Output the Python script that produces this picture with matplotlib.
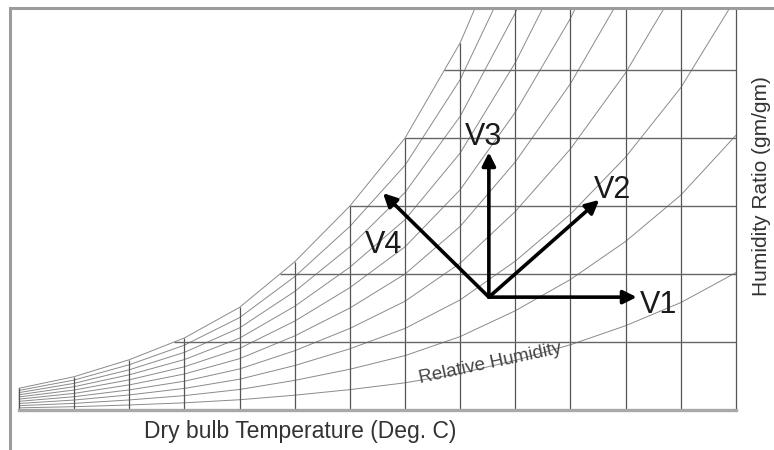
import matplotlib
matplotlib.use("Agg")
import matplotlib.pyplot as plt
import numpy as np

# dry bulb grid lines (deg C) and saturation humidity ratio
dry_bulb = [0, 5, 10, 15, 20, 25, 30, 35, 40, 45, 50, 55, 60, 65]
sat_ratio = [0.32, 0.49, 0.74, 1.06, 1.51, 2.18, 3.0, 4.0, 5.4, 7.3, 9.6, 12.4, 15.8, 20.2]
rel_humidity = [0.1, 0.2, 0.3, 0.4, 0.5, 0.6, 0.7, 0.8, 0.9, 1.0]
ratio_lines = [1, 2, 3, 4, 5]

# state point and the four process vectors (dry bulb, humidity ratio)
origin = (42.6, 1.66)
vectors = {
    "V1": (56.0, 1.66),
    "V2": (52.6, 3.09),
    "V3": (42.6, 3.79),
    "V4": (33.0, 3.19),
}
label_pos = {
    "V1": (56.3, 1.54),
    "V2": (52.1, 3.24),
    "V3": (40.4, 4.02),
    "V4": (31.4, 2.43),
}

fig = plt.figure(figsize=(7.74, 4.5), dpi=100)
ax = fig.add_axes([10 / 774, 0, 764 / 774, 442 / 450])
ax.set_xlim(-0.815, 68.45)
ax.set_ylim(-0.588, 5.912)
ax.set_xticks([])
ax.set_yticks([])
for side in ["bottom", "right"]:
    ax.spines[side].set_visible(False)
for side in ["top", "left"]:
    ax.spines[side].set_color("#9c9c9c")
    ax.spines[side].set_linewidth(2.2)

temps = np.array(dry_bulb)
sat = np.array(sat_ratio)

# relative humidity curves
for rh in rel_humidity:
    ax.plot(temps, rh * sat, color="#8a8a8a", lw=0.7)

# dry bulb lines up to saturation
ax.vlines(temps, 0, sat, color="#555555", lw=0.9)
# humidity ratio lines from saturation to right edge
starts = np.interp(ratio_lines, sat, temps)
ax.hlines(ratio_lines, starts, temps[-1], color="#666666", lw=1.0)
# base line
ax.plot([temps[0], temps[-1]], [0, 0], color="#a8a8a8", lw=2.4)

for name, tip in vectors.items():
    ax.annotate("", xy=tip, xytext=origin,
                arrowprops=dict(arrowstyle="-|>", color="black", lw=2.6,
                                mutation_scale=20, shrinkA=0, shrinkB=0))
    ax.text(*label_pos[name], name, fontsize=22, family="Liberation Sans",
            color="#1a1a1a", ha="left", va="center")

ax.text(42.7, 0.69, "Relative Humidity", fontsize=13.5, family="Liberation Sans",
        color="#444444", rotation=12, ha="center", va="center")
ax.text(25.5, -0.32, "Dry bulb Temperature (Deg. C)", fontsize=16.5,
        family="Liberation Sans", color="#333333", ha="center", va="center")
ax.text(66.5, 3.29, "Humidity Ratio (gm/gm)", fontsize=15, family="Liberation Sans",
        color="#333333", rotation=90, ha="left", va="center")

fig.savefig("out.png", dpi=100)
